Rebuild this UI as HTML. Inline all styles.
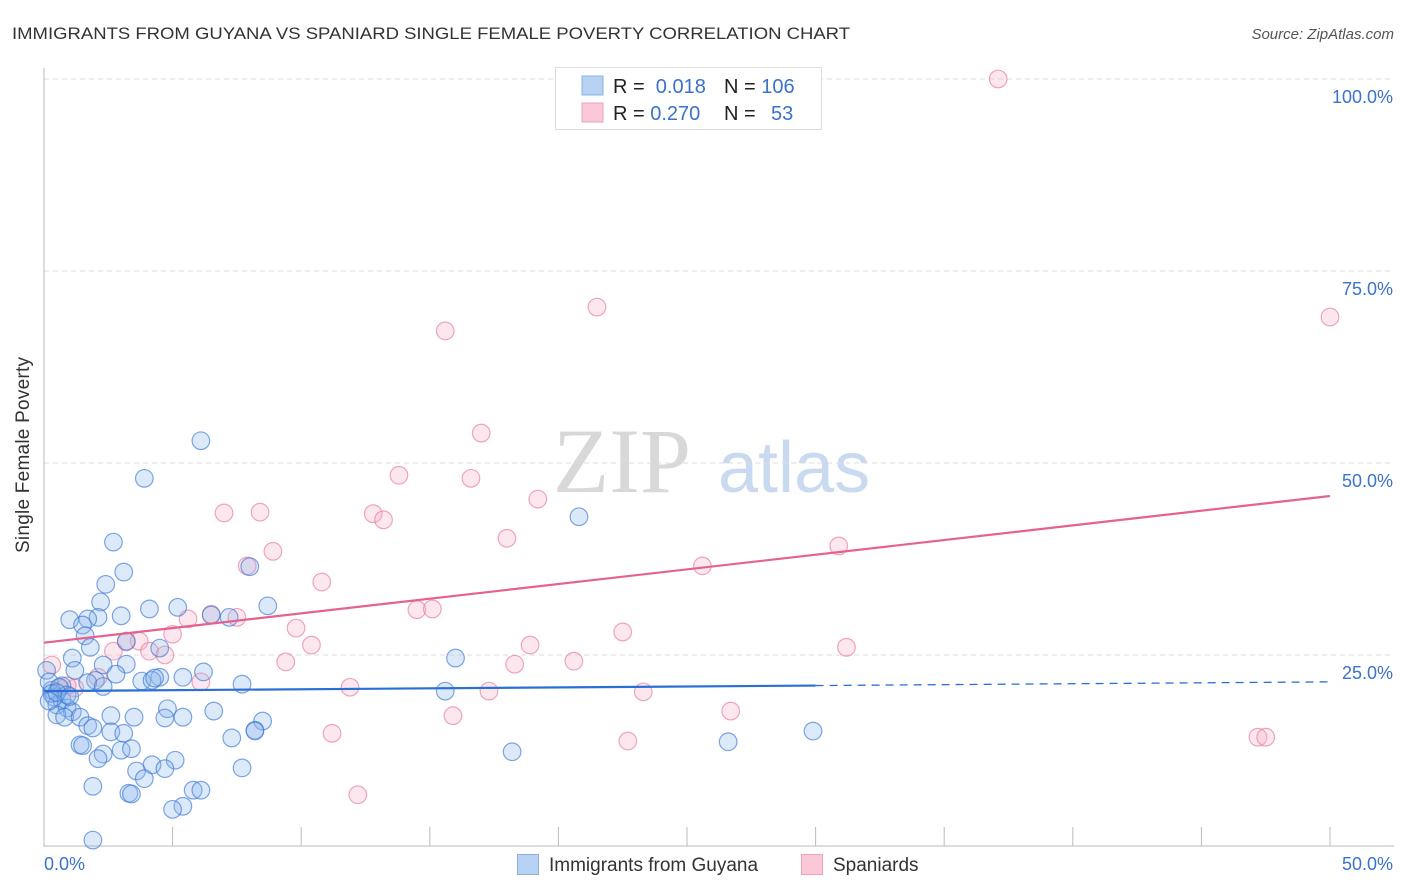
<!DOCTYPE html>
<html><head><meta charset="utf-8"><style>
body{margin:0;background:#fff;font-family:"Liberation Sans",sans-serif;}
svg{display:block}
</style></head><body>
<svg id="chart" width="1406" height="892" xmlns="http://www.w3.org/2000/svg">
<text x="12" y="39" font-size="17" fill="#333" textLength="838" lengthAdjust="spacingAndGlyphs">IMMIGRANTS FROM GUYANA VS SPANIARD SINGLE FEMALE POVERTY CORRELATION CHART</text>
<text x="1394" y="39" font-size="15" fill="#555" font-style="italic" text-anchor="end">Source: ZipAtlas.com</text>
<g>
<text x="553" y="492" font-size="92" font-family="Liberation Serif,serif" fill="#d8d8d8">ZIP</text>
<text x="718" y="492" font-size="72" fill="#c9daf0">atlas</text>
</g>
<g id="grid"></g>
<g id="axes"></g>
<g id="pts"></g>
<g id="trends"></g>
<text x="29" y="455" font-size="19" fill="#333" text-anchor="middle" textLength="196" transform="rotate(-90 29 455)">Single Female Poverty</text>
<g>
<rect x="555.5" y="67.5" width="266" height="62" fill="#fff" stroke="#ddd"/>
<rect x="582" y="76" width="21" height="19" fill="#b8d2f4" stroke="#8ab0e6"/>
<rect x="582" y="103" width="21" height="19" fill="#fac8d7" stroke="#eea2b9"/>
<text x="613" y="93" font-size="20" fill="#222">R = <tspan fill="#3a72cc">&#160;0.018</tspan><tspan x="724">N = </tspan><tspan fill="#3a72cc">106</tspan></text>
<text x="613" y="120" font-size="20" fill="#222">R = <tspan fill="#3a72cc">0.270</tspan><tspan x="724">N = </tspan><tspan fill="#3a72cc" x="771">53</tspan></text>
</g>
<g>
<rect x="517.5" y="854.5" width="21" height="20" fill="#b8d2f4" stroke="#8ab0e6"/>
<text x="549" y="871" font-size="19" fill="#333">Immigrants from Guyana</text>
<rect x="801.5" y="854.5" width="21" height="20" fill="#fac8d7" stroke="#eea2b9"/>
<text x="833" y="871" font-size="19" fill="#333">Spaniards</text>
</g>
</svg>
<script>
const yTicks=[25,50,75,100];
const yTickLabels=["25.0%","50.0%","75.0%","100.0%"];
const xTicks=[0,5,10,15,20,25,30,35,40,45,50];
const blueX=[6.1,3.9,20.8,2.7,8.0,3.1,2.4,2.2,8.7,5.2,4.1,3.0,2.1,1.0,1.7,6.5,7.2,1.5,1.6,3.2,1.8,4.5,1.1,16.0,2.3,3.2,0.1,1.2,6.2,2.8,4.5,5.4,3.8,4.2,4.3,2.0,1.7,7.7,2.3,0.7,0.3,15.6,0.4,0.7,0.5,0.9,1.1,6.6,4.8,0.5,0.8,1.4,2.6,3.5,4.7,5.4,8.5,1.7,1.9,8.2,8.2,2.6,3.1,7.3,29.9,26.6,1.4,1.5,3.0,3.4,2.3,18.2,2.1,5.1,4.2,4.7,3.6,7.7,3.9,1.9,5.8,6.1,3.3,3.4,5.4,5.0,1.9,0.2,0.3,0.6,0.9,0.2,0.5,1.0];
const blueY=[52.9,48.0,43.0,39.7,36.5,35.8,34.2,31.9,31.4,31.2,31.0,30.1,29.9,29.6,29.7,30.2,29.9,28.9,27.5,26.8,26.0,25.9,24.6,24.6,23.7,23.8,23.0,23.0,22.8,22.5,22.1,22.1,21.6,21.7,22.0,21.7,21.4,21.2,20.9,21.0,20.4,20.3,19.5,19.1,18.5,18.1,17.6,17.7,18.0,17.2,16.9,16.9,17.1,16.9,16.8,16.9,16.4,15.8,15.5,15.2,15.1,15.0,14.8,14.2,15.1,13.7,13.3,13.2,12.6,12.8,12.1,12.4,11.5,11.3,10.7,10.2,9.9,10.3,8.9,7.9,7.4,7.4,7.0,6.9,5.3,4.9,0.9,21.5,20.0,20.8,19.8,19.0,20.1,19.6];
const pinkX=[37.1,21.5,50.0,15.6,17.0,13.8,16.6,19.2,7.0,8.4,12.8,13.2,18.0,30.9,8.9,7.9,25.6,10.8,14.5,15.1,6.5,7.5,5.6,9.8,22.5,5.0,3.7,3.2,10.4,18.9,31.2,2.7,4.1,4.7,9.4,20.6,18.3,0.3,2.1,6.1,1.2,11.9,17.3,23.3,26.7,15.9,11.2,22.7,47.2,47.5,12.2,0.9,0.6];
const pinkY=[100,70.3,69.0,67.2,53.9,48.4,48.0,45.3,43.5,43.6,43.4,42.6,40.2,39.2,38.5,36.6,36.6,34.5,30.9,31.0,30.3,29.9,29.7,28.5,28.0,27.7,26.8,26.7,26.3,26.3,26.0,25.5,25.5,25.0,24.1,24.2,23.8,23.7,22.1,21.5,20.7,20.8,20.3,20.2,17.7,17.1,14.8,13.8,14.3,14.3,6.8,21.0,20.7];
const blueTrend=[20.3,21.5];
const pinkTrend=[26.6,45.7];
const blueSolidEnd=30;
const NS="http://www.w3.org/2000/svg";
const X=v=>44+v/50*1286;
const Y=v=>847-v/100*768;
function mk(tag,attrs,parent){const e=document.createElementNS(NS,tag);for(const k in attrs)e.setAttribute(k,attrs[k]);parent.appendChild(e);return e;}
const grid=document.getElementById('grid'),axes=document.getElementById('axes');
yTicks.forEach((t,i)=>{
 const l=mk('line',{x1:44,x2:1394,y1:Y(t),y2:Y(t),stroke:'#ddd','stroke-dasharray':'5,4'},grid);
 
 
 const tx=mk('text',{x:1393,y:Y(t)+24,'font-size':18,fill:'#3a72cc','text-anchor':'end'},axes);
 tx.textContent=yTickLabels[i];
 
 
});
mk('line',{x1:44,x2:44,y1:68,y2:847,stroke:'#bbb'},axes);
mk('line',{x1:44,x2:1394,y1:846,y2:846,stroke:'#bbb'},axes);
xTicks.forEach(t=>{
 const l=mk('line',{x1:X(t),x2:X(t),y1:827,y2:846,stroke:'#bbb'},axes);
 
 
});
let a=mk('text',{x:44,y:870,'font-size':18,fill:'#3a72cc'},axes);a.textContent='0.0%';


a=mk('text',{x:1393,y:870,'font-size':18,fill:'#3a72cc','text-anchor':'end'},axes);a.textContent='50.0%';


const pts=document.getElementById('pts');
pinkX.forEach((x,i)=>{
 const c=mk('circle',{cx:X(x),cy:Y(pinkY[i]),r:8.8,fill:'rgba(246,176,199,0.3)',stroke:'rgba(232,130,163,0.7)','stroke-width':1.2},pts);
 
 
});
blueX.forEach((x,i)=>{
 const c=mk('circle',{cx:X(x),cy:Y(blueY[i]),r:8.8,fill:'rgba(140,182,236,0.3)',stroke:'rgba(60,120,210,0.65)','stroke-width':1.2},pts);
 
 
});
const tr=document.getElementById('trends');
const by=x=>blueTrend[0]+(blueTrend[1]-blueTrend[0])*x/50;
let l=mk('line',{x1:X(0),y1:Y(by(0)),x2:X(blueSolidEnd),y2:Y(by(blueSolidEnd)),stroke:'#2a6fd6','stroke-width':2.2},tr);


l=mk('line',{x1:X(blueSolidEnd),y1:Y(by(blueSolidEnd)),x2:X(50),y2:Y(by(50)),stroke:'#2a6fd6','stroke-width':1.3,'stroke-dasharray':'8,6'},tr);


l=mk('line',{x1:X(0),y1:Y(pinkTrend[0]),x2:X(50),y2:Y(pinkTrend[1]),stroke:'#e5628e','stroke-width':2.2},tr);


</script>
</body></html>
